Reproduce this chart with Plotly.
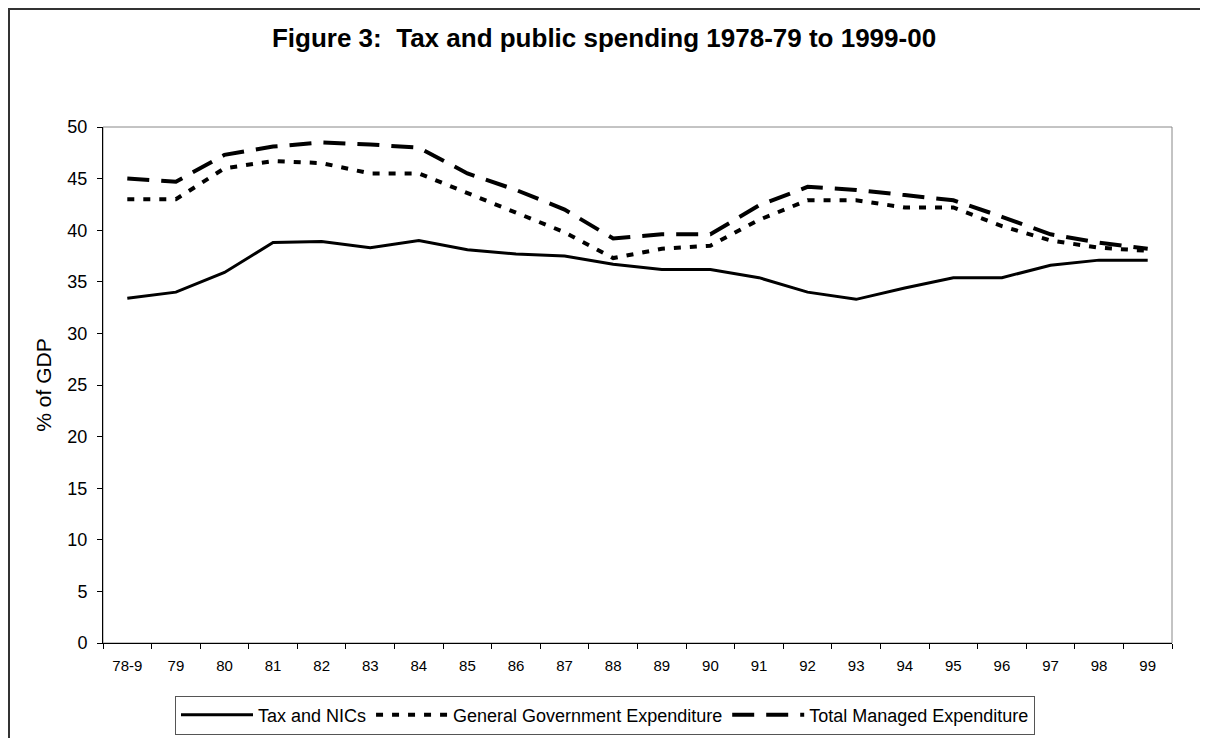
import plotly.graph_objects as go

years = ["78-9", "79", "80", "81", "82", "83", "84", "85", "86", "87", "88",
         "89", "90", "91", "92", "93", "94", "95", "96", "97", "98", "99"]
tax_nics = [33.4, 34.0, 35.9, 38.8, 38.9, 38.3, 39.0, 38.1, 37.7, 37.5, 36.7,
            36.2, 36.2, 35.4, 34.0, 33.3, 34.4, 35.4, 35.4, 36.6, 37.1, 37.1]
gge = [43.0, 43.0, 46.0, 46.7, 46.5, 45.5, 45.5, 43.6, 41.7, 39.8, 37.3,
       38.2, 38.5, 41.0, 42.9, 42.9, 42.2, 42.2, 40.4, 39.0, 38.3, 38.0]
tme = [45.0, 44.7, 47.3, 48.1, 48.5, 48.3, 48.0, 45.5, 43.9, 42.0, 39.2,
       39.6, 39.6, 42.4, 44.2, 43.9, 43.4, 42.9, 41.3, 39.6, 38.8, 38.2]

FONT = "Liberation Sans, Arial, sans-serif"

fig = go.Figure()
fig.add_trace(go.Scatter(x=years, y=tax_nics, mode="lines", name="Tax and NICs",
                         line=dict(color="black", width=3)))
fig.add_trace(go.Scatter(x=years, y=gge, mode="lines", name="General Government Expenditure",
                         line=dict(color="black", width=4, dash="7px,9px")))
fig.add_trace(go.Scatter(x=years, y=tme, mode="lines", name="Total Managed Expenditure",
                         line=dict(color="black", width=4, dash="22px,12px")))

# page body has an 8px margin, so the figure is 1200x730 drawn from (8,8)
W, H = 1200, 730
L, R, T, B = 95, 36, 119, 95
PW, PH = W - L - R, H - T - B

fig.update_layout(
    width=W, height=H,
    margin=dict(l=L, r=R, t=T, b=B, autoexpand=False),
    paper_bgcolor="white", plot_bgcolor="white",
    font=dict(family=FONT, color="black"),
    title=dict(text="<b>Figure 3:  Tax and public spending 1978-79 to 1999-00</b>",
               x=0.4967, xanchor="center", xref="container",
               y=0.959, yanchor="middle",
               font=dict(size=26, family=FONT, color="black")),
    showlegend=True,
    legend=dict(orientation="h", xref="container", yref="container",
                x=0.4975, xanchor="center", y=0.058, yanchor="top",
                bordercolor="#555555", borderwidth=1, bgcolor="white",
                font=dict(size=18, family=FONT), itemwidth=72),
    xaxis=dict(type="category", range=[-0.5, 21.5], tickson="boundaries",
               ticks="outside", ticklen=5, tickcolor="black", showline=True,
               linecolor="black", linewidth=1, showgrid=False, zeroline=False,
               ticklabelstandoff=9,
               tickfont=dict(size=15, family=FONT)),
    yaxis=dict(range=[0, 50], dtick=5, ticks="outside", ticklen=5, tickcolor="black",
               showline=True, linecolor="black", linewidth=1, showgrid=False,
               zeroline=False, tickfont=dict(size=18, family=FONT), ticklabelstandoff=6,
               title=dict(text="% of GDP", font=dict(size=21, family=FONT), standoff=10)),
    shapes=[
        dict(type="rect", xref="paper", yref="paper", x0=0, y0=0, x1=1, y1=1,
             line=dict(color="#888888", width=1), layer="below"),
        dict(type="rect", xref="paper", yref="paper",
             x0=(1 - L) / PW, x1=1.2, y0=-0.3, y1=(PH + T - 1) / PH,
             line=dict(color="#333333", width=2), layer="below"),
    ],
)

fig.write_html("out.html")
